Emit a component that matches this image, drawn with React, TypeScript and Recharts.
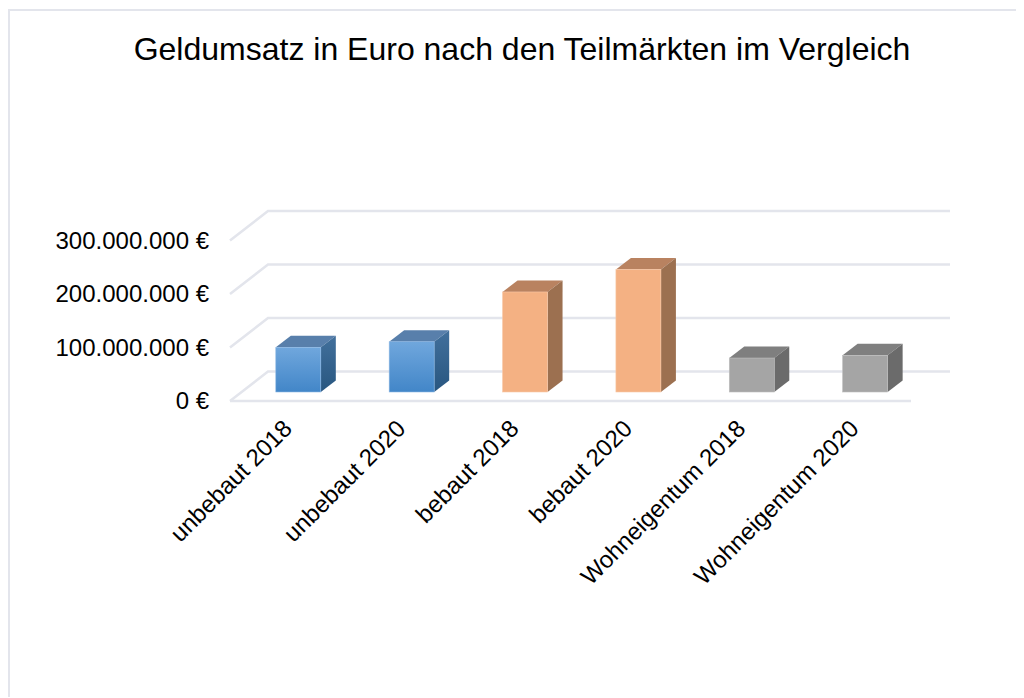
import React from "react";
import { BarChart, Bar, XAxis, YAxis, CartesianGrid } from "recharts";

const categories = ["unbebaut 2018", "unbebaut 2020", "bebaut 2018", "bebaut 2020", "Wohneigentum 2018", "Wohneigentum 2020"];
const values = [83500000, 94000000, 187000000, 229000000, 63500000, 68500000];
const yTicks = [0, 100000000, 200000000, 300000000];
const yTickLabels = ["0 €", "100.000.000 €", "200.000.000 €", "300.000.000 €"];
const title = "Geldumsatz in Euro nach den Teilmärkten im Vergleich";
const data = categories.map((name, i) => ({ name, value: values[i] }));

const FONT = "'Liberation Sans', Arial, sans-serif";
const GRID = "#e3e5ec";
const palette = [
  { front: "url(#blueFront)", side: "url(#blueSide)", top: "#587fab", edge: "#8db8e4" },
  { front: "url(#blueFront)", side: "url(#blueSide)", top: "#587fab", edge: "#8db8e4" },
  { front: "#f4b183", side: "#9c7050", top: "#b98260", edge: "#f8c9a8" },
  { front: "#f4b183", side: "#9c7050", top: "#b98260", edge: "#f8c9a8" },
  { front: "#a5a5a5", side: "#6b6b6b", top: "#7f7f7f", edge: "#bdbdbd" },
  { front: "#a5a5a5", side: "#6b6b6b", top: "#7f7f7f", edge: "#bdbdbd" },
];
const DX = 15;
const DY = 11.5;

function Box(props: any) {
  const { x, y, width, height, index } = props;
  const c = palette[index];
  const r = x + width;
  const b = y + height;
  return (
    <g>
      <polygon points={`${x},${y} ${x + DX},${y - DY} ${r + DX},${y - DY} ${r},${y}`} fill={c.top} />
      <polygon points={`${r},${y} ${r + DX},${y - DY} ${r + DX},${b - DY} ${r},${b}`} fill={c.side} />
      <rect x={x} y={y} width={width} height={height} fill={c.front} stroke={c.edge} strokeWidth={0.6} />
    </g>
  );
}

function GridLine(props: any) {
  const { x1, x2, y1 } = props;
  const isFloor = y1 > 380;
  return (
    <g fill="none" stroke={GRID} strokeWidth={2.5}>
      <polyline points={`${x1 - 11.8},${y1 + 9} ${x1 + 26.2},${y1 - 20.5} ${x2 + 28},${y1 - 20.5}`} />
      {isFloor && <line x1={x1 - 11.8} y1={y1 + 9} x2={x2 - 11} y2={y1 + 9} />}
    </g>
  );
}

function YTick(props: any) {
  const { y, payload } = props;
  return (
    <text x={200} y={y + 9} dy={8} textAnchor="end" fontFamily={FONT} fontSize={24} fill="#000">
      {yTickLabels[yTicks.indexOf(payload.value)]}
    </text>
  );
}

function XTick(props: any) {
  const { x, y, payload } = props;
  const px = x - 5;
  const py = y + 30;
  return (
    <text x={px} y={py} textAnchor="end" transform={`rotate(-45 ${px} ${py})`} fontFamily={FONT} fontSize={24} fill="#000">
      {payload.value}
    </text>
  );
}

export default function App() {
  return (
    <div style={{ width: 1016, height: 689, top: 1, boxSizing: "border-box", borderTop: `2px solid ${GRID}`, borderLeft: `2px solid ${GRID}`, position: "relative" }}>
      <div style={{ position: "absolute", left: 0, top: 18, width: 1024, textAlign: "center", fontFamily: FONT, fontSize: 32, lineHeight: "40px", color: "#000", whiteSpace: "nowrap" }}>
        {title}
      </div>
      <BarChart
        width={1015}
        height={687}
        data={data}
        style={{ marginLeft: -1, marginTop: -1 }}
        margin={{ top: 221.5, right: 102, bottom: 0, left: 0 }}
        barCategoryGap="30%"
      >
        <defs>
          <linearGradient id="blueFront" x1="0" y1="0" x2="0" y2="1">
            <stop offset="0%" stopColor="#70a7dd" />
            <stop offset="100%" stopColor="#4286c8" />
          </linearGradient>
          <linearGradient id="blueSide" x1="0" y1="0" x2="0" y2="1">
            <stop offset="0%" stopColor="#42709c" />
            <stop offset="100%" stopColor="#285680" />
          </linearGradient>
        </defs>
        <CartesianGrid vertical={false} horizontal={<GridLine />} />
        <XAxis dataKey="name" axisLine={false} tickLine={false} height={305} interval={0} tick={<XTick />} />
        <YAxis domain={[0, 300000000]} ticks={yTicks} width={232.8} axisLine={false} tickLine={false} tick={<YTick />} />
        <Bar dataKey="value" shape={<Box />} isAnimationActive={false} />
      </BarChart>
    </div>
  );
}
